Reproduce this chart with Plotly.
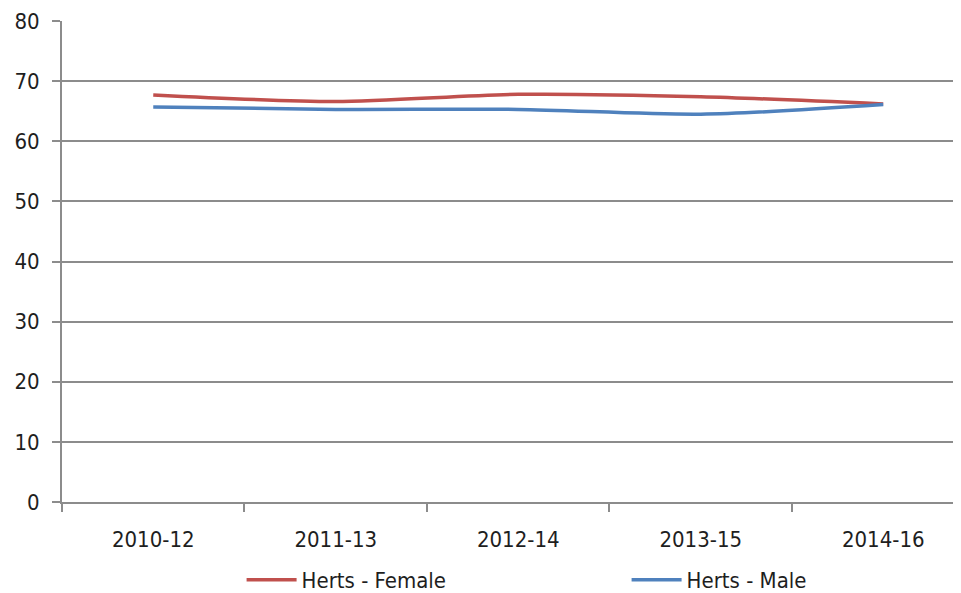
import plotly.graph_objects as go

categories = ["2010-12", "2011-13", "2012-14", "2013-15", "2014-16"]
female = [67.7, 66.6, 67.8, 67.4, 66.2]
male = [65.7, 65.3, 65.3, 64.5, 66.1]
y_ticks = [0, 10, 20, 30, 40, 50, 60, 70, 80]

FONT = "DejaVu Sans Condensed, Liberation Sans Narrow, Liberation Sans, sans-serif"
TXT = "#1e1e1e"
GRID = "#8c8c8c"

fig = go.Figure()
fig.add_trace(go.Scatter(x=categories, y=female, name="Herts - Female", mode="lines",
                         line=dict(color="#C0504D", width=3.5, shape="spline", smoothing=0.8)))
fig.add_trace(go.Scatter(x=categories, y=male, name="Herts - Male", mode="lines",
                         line=dict(color="#4F81BD", width=3.5, shape="spline", smoothing=0.8)))

fig.update_layout(
    width=961, height=593,
    margin=dict(l=54, r=0, t=13, b=99, autoexpand=False),
    paper_bgcolor="white", plot_bgcolor="white",
    font=dict(family=FONT, size=22, color=TXT),
    showlegend=True,
    legend=dict(orientation="h", x=0.198, y=-0.162, xanchor="left", yanchor="middle",
                entrywidth=320, entrywidthmode="pixels", font=dict(size=22, color=TXT),
                itemwidth=50, bgcolor="rgba(0,0,0,0)"),
    xaxis=dict(type="category", range=[-0.5, 4.47], showgrid=False,
               showline=True, linecolor=GRID, linewidth=2,
               ticks="outside", tickson="boundaries", ticklen=8, tickcolor=GRID, tickwidth=2,
               ticklabelstandoff=17,
               tickfont=dict(size=22, color=TXT), zeroline=False),
    yaxis=dict(range=[0, 80], tickvals=y_ticks, showgrid=True, gridcolor=GRID, gridwidth=2,
               showline=True, linecolor=GRID, linewidth=2,
               ticks="outside", ticklen=8, tickcolor=GRID, tickwidth=2,
               ticklabelstandoff=8,
               tickfont=dict(size=22, color=TXT), zeroline=False),
)

fig.write_html("out.html")
